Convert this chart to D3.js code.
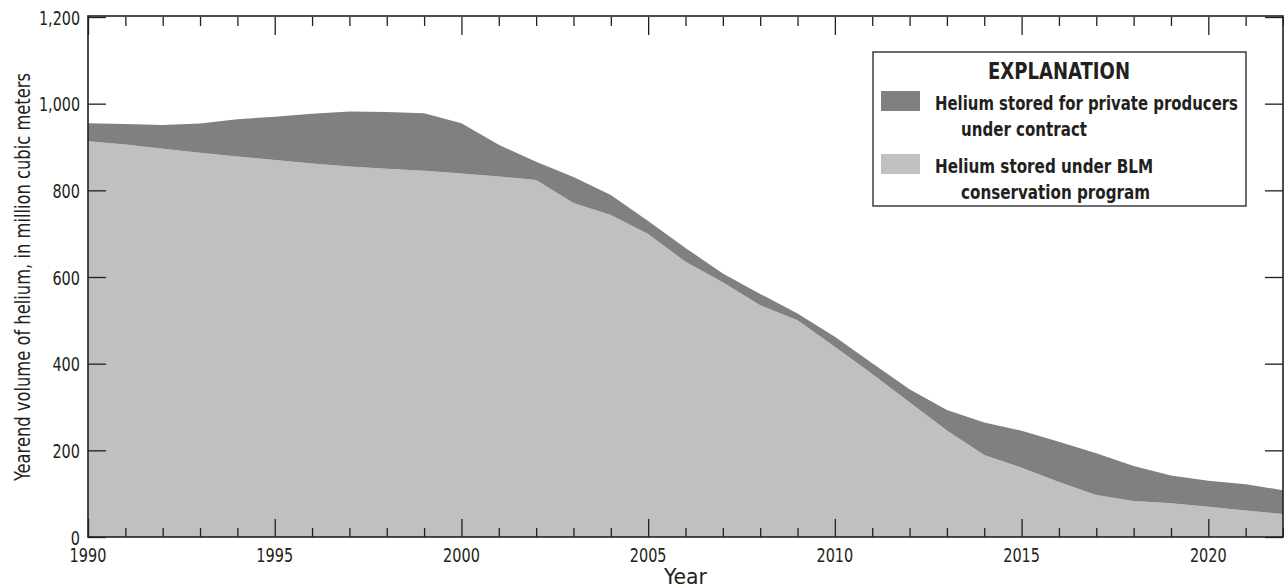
<!DOCTYPE html>
<html>
<head>
<meta charset="utf-8">
<script src="https://cdn.jsdelivr.net/npm/d3@7"></script>
<style>
  body { margin: 0; background: #fff; }
  svg text { font-family: "DejaVu Sans Condensed", "Liberation Sans Narrow", "Liberation Sans", sans-serif; fill: #231f20; }
</style>
</head>
<body>
<div id="chart"></div>
<script>
// 数据 (million cubic meters, yearend)
var years = d3.range(1990, 2023);
var blmValues = [913, 906, 896, 887, 878, 870, 862, 855, 850, 845, 839, 832, 824, 771, 743, 699, 635, 588, 535, 500, 439, 376, 311, 246, 189, 160, 127, 97, 83, 78, 70, 61, 53];
var privateValues = [42, 47, 55, 67, 86, 100, 115, 127, 131, 133, 116, 73, 42, 60, 46, 30, 32, 20, 26, 16, 23, 25, 30, 47, 75, 85, 93, 96, 81, 64, 60, 61, 55];
var yTicks = [0, 200, 400, 600, 800, 1000, 1200];
var xMajor = [1990, 1995, 2000, 2005, 2010, 2015, 2020];
var legendLabels = [
    ['Helium stored for private producers', 'under contract'],
    ['Helium stored under BLM', 'conservation program']
];

var W = 1284, H = 588;
var margin = { left: 88, right: 1283, top: 17, bottom: 537 };
var ink = '#231f20';

var svg = d3.select('#chart').append('svg')
    .attr('width', W)
    .attr('height', H);

var x = d3.scaleLinear().domain([1990, 2022]).range([margin.left, margin.right]);
var y = d3.scaleLinear().domain([0, 1200]).range([margin.bottom, margin.top]);

// 压缩字体宽度 (reference uses a condensed face)
function fit(sel, width) {
    sel.attr('textLength', width).attr('lengthAdjust', 'spacingAndGlyphs');
}
function numWidth(s) {
    var w = 0;
    for (var i = 0; i < s.length; i++) w += s[i] === ',' ? 4.2 : 9.2;
    return w;
}

// 堆叠面积
var table = years.map(function(yr, i) {
    return { year: yr, blm: blmValues[i], priv: privateValues[i] };
});
var stack = d3.stack().keys(['blm', 'priv']);
var series = stack(table);
var colors = { blm: '#c1c0be', priv: '#808080' };

var area = d3.area()
    .x(function(d) { return x(d.data.year); })
    .y0(function(d) { return y(d[0]); })
    .y1(function(d) { return y(d[1]); });

svg.append('g').selectAll('path')
    .data(series)
    .enter()
    .append('path')
    .attr('fill', function(d) { return colors[d.key]; })
    .attr('d', area);

// 坐标轴
function styleAxis(g) {
    g.select('.domain').remove();
    g.selectAll('line').attr('stroke', ink).attr('stroke-width', 1.3);
}

var minorYears = years.filter(function(v) { return xMajor.indexOf(v) < 0; });

svg.append('g')
    .attr('transform', 'translate(0,' + margin.bottom + ')')
    .call(d3.axisTop(x).tickValues(xMajor).tickSize(18).tickFormat(''))
    .call(styleAxis);
svg.append('g')
    .attr('transform', 'translate(0,' + margin.bottom + ')')
    .call(d3.axisTop(x).tickValues(minorYears).tickSize(9).tickFormat(''))
    .call(styleAxis);
svg.append('g')
    .attr('transform', 'translate(0,' + margin.top + ')')
    .call(d3.axisBottom(x).tickValues(xMajor).tickSize(18).tickFormat(''))
    .call(styleAxis);
svg.append('g')
    .attr('transform', 'translate(0,' + margin.top + ')')
    .call(d3.axisBottom(x).tickValues(minorYears).tickSize(9).tickFormat(''))
    .call(styleAxis);

// x tick labels
svg.append('g').selectAll('text')
    .data(xMajor)
    .enter()
    .append('text')
    .attr('x', function(d) { return x(d); })
    .attr('y', 562)
    .attr('text-anchor', 'middle')
    .attr('font-size', 19.5)
    .text(function(d) { return d; })
    .each(function(d) { fit(d3.select(this), numWidth(String(d))); });

svg.append('g')
    .attr('transform', 'translate(' + margin.left + ',0)')
    .call(d3.axisRight(y).tickValues(yTicks).tickSize(18).tickFormat(''))
    .call(styleAxis);
svg.append('g')
    .attr('transform', 'translate(' + margin.right + ',0)')
    .call(d3.axisLeft(y).tickValues(yTicks).tickSize(18).tickFormat(''))
    .call(styleAxis);

svg.append('g').selectAll('text')
    .data(yTicks)
    .enter()
    .append('text')
    .attr('x', 80)
    .attr('y', function(d) { return y(d) + 7.5; })
    .attr('text-anchor', 'end')
    .attr('font-size', 19.5)
    .text(function(d) { return d3.format(',')(d); })
    .each(function(d) { fit(d3.select(this), numWidth(d3.format(',')(d))); });

// 边框
svg.append('rect')
    .attr('x', margin.left)
    .attr('y', margin.top - 1)
    .attr('width', margin.right - margin.left)
    .attr('height', margin.bottom - margin.top + 1)
    .attr('fill', 'none')
    .attr('stroke', ink)
    .attr('stroke-width', 1.6);

// 轴标题
svg.append('text')
    .attr('x', (margin.left + margin.right) / 2)
    .attr('y', 584)
    .attr('text-anchor', 'middle')
    .attr('font-size', 22)
    .text('Year')
    .call(fit, 43);

svg.append('text')
    .attr('transform', 'translate(30,' + ((margin.top + margin.bottom) / 2) + ') rotate(-90)')
    .attr('text-anchor', 'middle')
    .attr('font-size', 22)
    .text('Yearend volume of helium, in million cubic meters')
    .call(fit, 408);

// 图例
var lg = svg.append('g');
lg.append('rect')
    .attr('x', 873)
    .attr('y', 52)
    .attr('width', 373)
    .attr('height', 154)
    .attr('fill', '#fff')
    .attr('stroke', ink)
    .attr('stroke-width', 1.3);
lg.append('text')
    .attr('x', 1059)
    .attr('y', 78.5)
    .attr('text-anchor', 'middle')
    .attr('font-size', 23)
    .attr('font-weight', 'bold')
    .text('EXPLANATION')
    .call(fit, 142);

var swatchColors = [colors.priv, colors.blm];
var rowY = [91, 154];
var lineWidths = [[303, 126], [218, 189]];
legendLabels.forEach(function(lines, i) {
    lg.append('rect')
        .attr('x', 881)
        .attr('y', rowY[i])
        .attr('width', 39)
        .attr('height', 20)
        .attr('fill', swatchColors[i]);
    lg.append('text')
        .attr('x', 935)
        .attr('y', rowY[i] + 18.5)
        .attr('font-size', 19.5)
        .attr('font-weight', 'bold')
        .text(lines[0])
        .call(fit, lineWidths[i][0]);
    lg.append('text')
        .attr('x', 961)
        .attr('y', rowY[i] + 44.5)
        .attr('font-size', 19.5)
        .attr('font-weight', 'bold')
        .text(lines[1])
        .call(fit, lineWidths[i][1]);
});
</script>
</body>
</html>
